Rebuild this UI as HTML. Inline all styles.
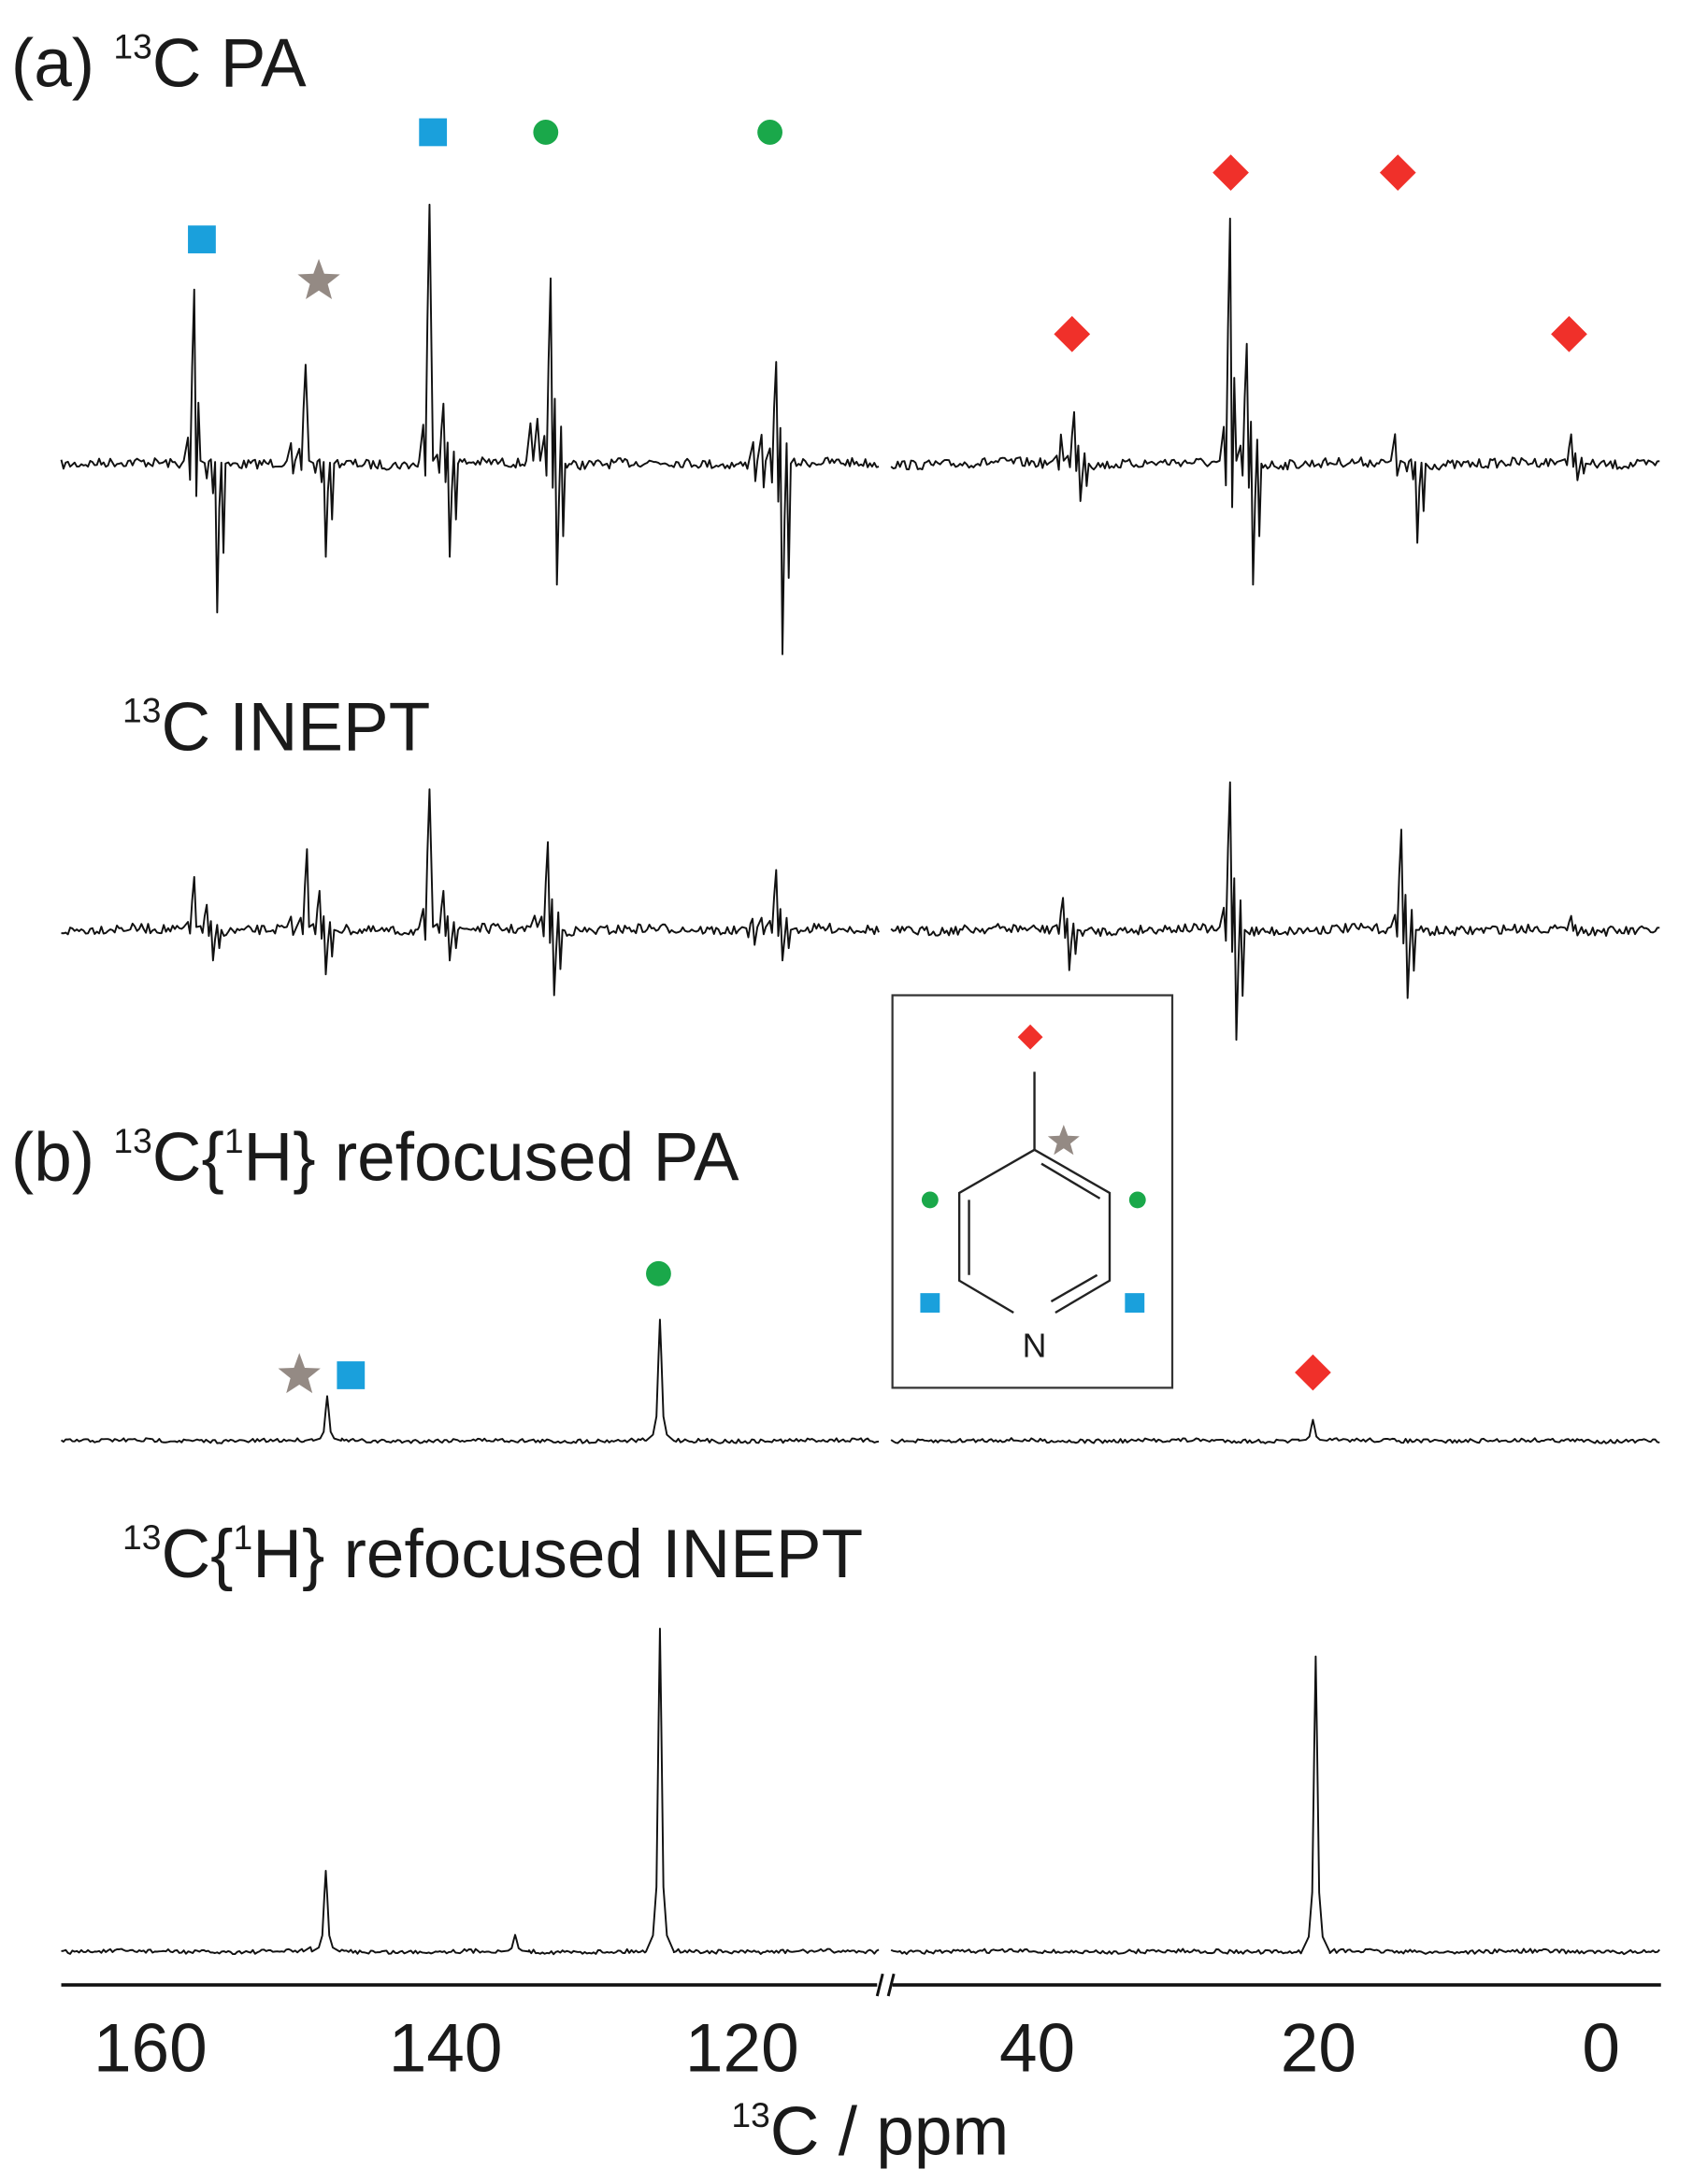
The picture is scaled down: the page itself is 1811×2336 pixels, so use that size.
<!DOCTYPE html>
<html><head><meta charset="utf-8"><style>
html,body{margin:0;padding:0;background:#fff;width:1811px;height:2336px;overflow:hidden}
svg{display:block}
text{font-family:"Liberation Sans",sans-serif;fill:#1a1a1a}
</style></head><body>
<svg id="s" width="1811" height="2336" viewBox="0 0 1216 1569" preserveAspectRatio="none" xmlns="http://www.w3.org/2000/svg">
<g id="spec" fill="none" stroke="#111" stroke-width="1.3" stroke-linejoin="round"></g>
<text x="8" y="62" font-size="49">(a) <tspan font-size="25" dy="-20">13</tspan><tspan dy="20">C PA</tspan></text>
<text x="88" y="539" font-size="49"><tspan font-size="25" dy="-20">13</tspan><tspan dy="20">C INEPT</tspan></text>
<text x="8" y="848" font-size="49">(b) <tspan font-size="25" dy="-20">13</tspan><tspan dy="20">C{</tspan><tspan font-size="25" dy="-20">1</tspan><tspan dy="20">H} refocused PA</tspan></text>
<text x="88" y="1133" font-size="49"><tspan font-size="25" dy="-20">13</tspan><tspan dy="20">C{</tspan><tspan font-size="25" dy="-20">1</tspan><tspan dy="20">H} refocused INEPT</tspan></text>
<line x1="44" y1="1426" x2="630" y2="1426" stroke="#111" stroke-width="2.4"/>
<line x1="641" y1="1426" x2="1193" y2="1426" stroke="#111" stroke-width="2.4"/>
<line x1="634" y1="1418" x2="630" y2="1434" stroke="#111" stroke-width="2"/>
<line x1="642" y1="1418" x2="638" y2="1434" stroke="#111" stroke-width="2"/>
<g font-size="49" text-anchor="middle">
<text x="108" y="1488">160</text><text x="320" y="1488">140</text><text x="533" y="1488">120</text>
<text x="745" y="1488">40</text><text x="947" y="1488">20</text><text x="1150" y="1488">0</text>
<text x="625" y="1548"><tspan font-size="25" dy="-20">13</tspan><tspan dy="20">C / ppm</tspan></text>
</g>
<g id="mk"></g>
<rect x="641" y="715" width="201" height="282" fill="none" stroke="#333" stroke-width="1.5"/>
<g stroke="#222" stroke-width="1.6" fill="none">
<line x1="743" y1="770" x2="743" y2="826"/>
<polyline points="743,826 797,857 797,920 758,943"/>
<polyline points="728,943 689,920 689,857 743,826"/>
<line x1="748" y1="836" x2="790" y2="861"/>
<line x1="696" y1="862" x2="696" y2="916"/>
<line x1="755" y1="935" x2="788" y2="916"/>
</g>
<text x="743" y="975" font-size="24" text-anchor="middle">N</text>
</svg>
<script>
var seed=7;function r(){seed=(seed*16807)%2147483647;return seed/2147483647-0.5;}
var G=document.getElementById('spec'),NS='http://www.w3.org/2000/svg';
function spec(x0,x1,yb,amp,peaks,type){
 var pts=[];for(var x=x0;x<=x1;x+=1.6){pts.push([x,yb+r()*amp*2+(Math.sin(x*0.05)*amp*0.3)]);}
 peaks.filter(function(p){return p[0]>x0+10&&p[0]<x1-10;}).forEach(function(p){var x=p[0],u=p[1],d=p[2]||yb;
  pts=pts.filter(function(q){return q[0]<x-10||q[0]>x+10;});
  if(type=='d'){var a=yb-u,b=d-yb;
   [[-9,yb-2],[-6,yb-a*0.15],[-4.5,yb+b*0.1],[-3,yb-a*0.55],[-1.5,u],[0,yb+b*0.2],[1.5,yb-a*0.35],[3,d],[4.5,yb+b*0.3],[6,yb-a*0.2],[7.5,yb+b*0.6],[9,yb]].forEach(function(q){pts.push([x+q[0],q[1]]);});
  }else{var a=yb-u;[[-10,yb],[-5,yb-a*0.05],[-2.5,yb-a*0.2],[-1,yb-a*0.7],[0,u],[1,yb-a*0.7],[2.5,yb-a*0.2],[5,yb-a*0.05],[10,yb]].forEach(function(q){pts.push([x+q[0],q[1]]);});}
 });
 pts.sort(function(a,b){return a[0]-b[0];});
 var p=document.createElementNS(NS,'polyline');p.setAttribute('points',pts.map(function(q){return q[0].toFixed(1)+','+q[1].toFixed(1)}).join(' '));G.appendChild(p);
}
var PA=[[141,208,450],[153,330,440],[215,235,405],[221,262,380],[231,330,400],[310,147,420],[320,290,400],[387,140,420],[392,118,435],[397,200,420],[547,230,460],[553,195,505],[559,260,470],[765,295,378],[773,296,360],[885,157,490],[897,247,420],[1008,192,420],[1015,330,390],[1130,312,345]];
spec(44,632,333,3.5,PA,'d');spec(640,1192,333,3.5,PA,'d');
var IN=[[141,630,695],[150,650,690],[215,605,705],[222,610,700],[231,640,700],[310,567,740],[320,640,690],[390,600,720],[395,605,715],[542,660,722],[553,610,700],[559,625,690],[765,645,697],[885,562,747],[1008,596,717],[1130,658,672]];
spec(44,632,668,3.5,IN,'d');spec(640,1192,668,3.5,IN,'d');
spec(44,632,1035,1.5,[[229,1010],[235,1003],[474,948]],'l');spec(640,1192,1035,1.5,[[943,1020]],'l');
spec(44,632,1402,1.5,[[228,1338],[234,1344],[370,1390],[474,1170]],'l');spec(640,1192,1402,1.5,[[945,1190]],'l');
var M=document.getElementById('mk'),h='';
function sq(x,y,s){h+='<rect x="'+(x-s)+'" y="'+(y-s)+'" width="'+2*s+'" height="'+2*s+'" fill="#1aa0dc"/>';}
function ci(x,y,s){h+='<circle cx="'+x+'" cy="'+y+'" r="'+s+'" fill="#1aa84a"/>';}
function di(x,y,s){h+='<polygon points="'+x+','+(y-s)+' '+(x+s)+','+y+' '+x+','+(y+s)+' '+(x-s)+','+y+'" fill="#f0302a"/>';}
function st(x,y,R){var p=[];for(var i=0;i<10;i++){var a=-Math.PI/2+i*Math.PI/5,rr=i%2?R*0.42:R;p.push((x+rr*Math.cos(a)).toFixed(1)+','+(y+rr*Math.sin(a)).toFixed(1));}h+='<polygon points="'+p.join(' ')+'" fill="#948a84"/>';}
sq(145,172,10);sq(311,95,10);ci(392,95,9);ci(553,95,9);st(229,202,16);
di(884,124,13);di(1004,124,13);di(770,240,13);di(1127,240,13);
st(215,988,16);sq(252,988,10);ci(473,915,9);di(943,986,13);
di(740,745,9);st(764,820,12);ci(668,862,6);ci(817,862,6);sq(668,936,7);sq(815,936,7);
M.innerHTML=h;
</script>
</body></html>
